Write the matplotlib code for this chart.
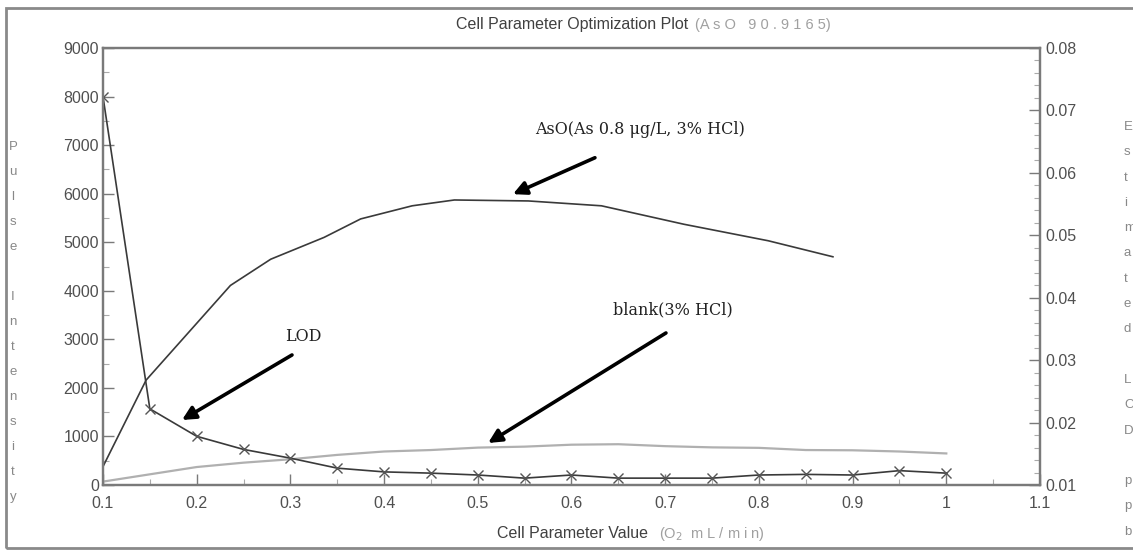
import matplotlib
matplotlib.use("Agg")
import matplotlib.pyplot as plt
from matplotlib.patches import Rectangle
from matplotlib.ticker import MultipleLocator

# Data
aso_x = [0.1, 0.146, 0.236, 0.279, 0.336, 0.375, 0.43, 0.475, 0.554, 0.632, 0.72, 0.81, 0.879]
aso_y = [380, 2160, 4110, 4650, 5100, 5480, 5750, 5870, 5850, 5750, 5370, 5030, 4700]

lod_x = [0.1, 0.15, 0.2, 0.25, 0.3, 0.35, 0.4, 0.45, 0.5, 0.55,
         0.6, 0.65, 0.7, 0.75, 0.8, 0.85, 0.9, 0.95, 1.0]
lod_y = [0.0722, 0.0222, 0.0178, 0.0157, 0.0143, 0.0127, 0.0121, 0.0119, 0.0116, 0.0111,
         0.0116, 0.0111, 0.0111, 0.0111, 0.0116, 0.0117, 0.0116, 0.0123, 0.0119]

blank_x = [0.1, 0.15, 0.2, 0.25, 0.3, 0.35, 0.4, 0.45, 0.5, 0.55,
           0.6, 0.65, 0.7, 0.75, 0.8, 0.85, 0.9, 0.95, 1.0]
blank_y = [70, 220, 370, 460, 530, 620, 690, 720, 770, 790,
           830, 840, 800, 775, 765, 720, 715, 690, 650]

x_labels = ["0.1", "0.2", "0.3", "0.4", "0.5", "0.6", "0.7", "0.8", "0.9", "1", "1.1"]
r_labels = ["0.01", "0.02", "0.03", "0.04", "0.05", "0.06", "0.07", "0.08"]

W, H = 1133, 552
fig = plt.figure(figsize=(W / 100, H / 100), dpi=100)
fig.patch.set_facecolor("white")

# outer frame
fig.add_artist(Rectangle((6 / W, 1 - 548 / H), 1.2, (548 - 8) / H,
                         transform=fig.transFigure, fill=False, ec="#8a8a8a", lw=2))

ax = fig.add_axes([103 / W, 1 - 485 / H, (1040 - 103) / W, (485 - 48) / H])
ax2 = ax.twinx()

sans = "Liberation Sans"
tick_col = "#505050"
spine_col = "#7a7a7a"

ax.plot(aso_x, aso_y, color="#3a3a3a", lw=1.2)
ax.plot(blank_x, blank_y, color="#b0b0b0", lw=1.6)
ax2.plot(lod_x, lod_y, color="#3a3a3a", lw=1.2, marker="x", ms=7, mew=1.0, mec="#555555")

ax.set_xlim(0.1, 1.1)
ax.set_ylim(0, 9000)
ax2.set_ylim(0.01, 0.08)

ax.xaxis.set_minor_locator(MultipleLocator(0.05))
ax.yaxis.set_major_locator(MultipleLocator(1000))
ax.yaxis.set_minor_locator(MultipleLocator(500))
ax2.yaxis.set_minor_locator(MultipleLocator(0.002))

ax.set_xticks([float(v) for v in x_labels])
ax.set_xticklabels(x_labels)
ax2.set_yticks([float(v) for v in r_labels])
ax2.set_yticklabels(r_labels)

for a in (ax, ax2):
    a.tick_params(which="major", direction="in", length=8, width=1, color=spine_col,
                  labelsize=11.5, labelcolor=tick_col, pad=4)
    a.tick_params(which="minor", direction="in", length=4, width=0.8, color="#aaaaaa")
    for s in a.spines.values():
        s.set_color(spine_col)
        s.set_linewidth(1.6)
    for lab in a.get_xticklabels() + a.get_yticklabels():
        lab.set_family(sans)
ax.tick_params(axis="x", pad=8)
ax.tick_params(axis="y", pad=3)

# annotations
serif = "DejaVu Serif"
arrow = dict(arrowstyle="-|>", color="black", lw=2.6, mutation_scale=20, shrinkA=0, shrinkB=0)
ax.text(0.561, 7313, "AsO(As 0.8 \u03bcg/L, 3% HCl)", family=serif, fontsize=11.5,
        ha="left", va="center", color="#222222")
ax.annotate("", xy=(0.5375, 5990), xytext=(0.625, 6740), arrowprops=arrow)
ax.text(0.294, 3049, "LOD", family=serif, fontsize=11.5, ha="left", va="center", color="#222222")
ax.annotate("", xy=(0.1843, 1339), xytext=(0.3017, 2678), arrowprops=arrow)
ax.text(0.644, 3605, "blank(3% HCl)", family=serif, fontsize=11.5, ha="left", va="center",
        color="#222222")
ax.annotate("", xy=(0.511, 865), xytext=(0.7008, 3131), arrowprops=arrow)

# title and x label
fig.text(688 / W, 1 - 25 / H, "Cell Parameter Optimization Plot", family=sans, fontsize=11.5,
         ha="right", va="center", color="#404040")
fig.text(695 / W, 1 - 25 / H, "(A s O   9 0 . 9 1 6 5)", family=sans, fontsize=10.5,
         ha="left", va="center", color="#a0a0a0")
fig.text(648 / W, 1 - 534 / H, "Cell Parameter Value", family=sans, fontsize=11.5,
         ha="right", va="center", color="#404040")
fig.text(659 / W, 1 - 534 / H, "(O$_2$  m L / m i n)", family=sans, fontsize=10.5,
         ha="left", va="center", color="#a0a0a0")

# stacked axis titles
for i, ch in enumerate("Pulse Intensity"):
    fig.text(13 / W, 1 - (147 + 25 * i) / H, ch, family=sans, fontsize=9.5,
             ha="center", va="center", color="#888888")
for i, ch in enumerate("Estimated LOD ppb"):
    fig.text(1124 / W, 1 - (127 + 25.3 * i) / H, ch, family=sans, fontsize=9.5,
             ha="left", va="center", color="#888888")

fig.savefig("out.png", dpi=100)
